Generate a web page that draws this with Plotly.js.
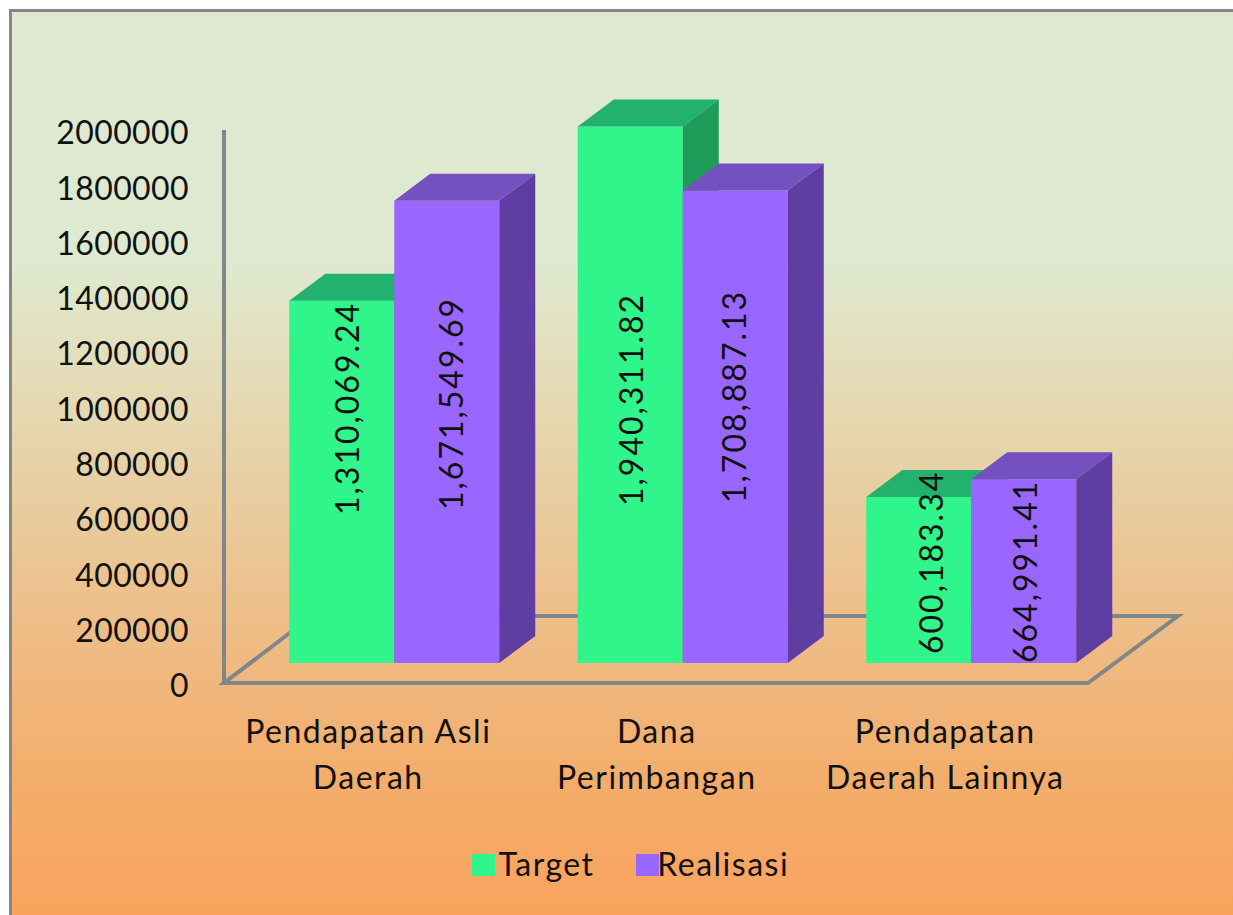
<!DOCTYPE html>
<html>
<head>
<meta charset="utf-8">
<script src="https://cdn.plot.ly/plotly-3.0.1.min.js"></script>
<style>
html,body{margin:0;padding:0;width:1233px;height:915px;overflow:hidden;background:#fff}
#bg{position:absolute;left:9px;top:9px;width:1240px;height:930px;box-sizing:border-box;border:3px solid #84887f;
background:linear-gradient(180deg,#dfe9d0 0px,#dfe9cf 250px,#e5d8b0 400px,#edc08c 590px,#f3ae6c 760px,#f9a35e 900px)}
#chart{position:absolute;left:0;top:0;width:1233px;height:915px}
#chart .annotation text{letter-spacing:1.5px}
#chart .annotation.data-label text{letter-spacing:2px}
#chart .xtick text{letter-spacing:1.5px}
#chart .ytick text{letter-spacing:0.4px}
</style>
</head>
<body>
<div id="bg"></div>
<div id="chart"></div>
<script>
const categories = ["Pendapatan Asli<br>Daerah", "Dana<br>Perimbangan", "Pendapatan<br>Daerah Lainnya"];
const target = [1310069.24, 1940311.82, 600183.34];
const realisasi = [1671549.69, 1708887.13, 664991.41];
const yTicks = [0,200000,400000,600000,800000,1000000,1200000,1400000,1600000,1800000,2000000];
const seriesNames = ["Target", "Realisasi"];
const labelFont = "Lato, Carlito, sans-serif";

// chart frame in pixels
const L=214,R=1188,T=95,B=693, X0=224, Y0=683, catW=288.5, unitsPerPx=2000000/553;
const xr=[-0.5-(X0-L)/catW, 2.5+(R-X0-3*catW)/catW];
const yr=[-(B-Y0)*unitsPerPx,(Y0-T)*unitsPerPx];
const dx=px=>px/catW, dy=px=>px*unitsPerPx;
const pxX=p=>-0.5+(p-X0)/catW;
const paperX=p=>(p-L)/(R-L), paperY=p=>(B-p)/(B-T);

const barW=dx(105), base=dy(20), depthX=dx(36), depthY=dy(27);
const offsets=[dx(-79),dx(26)];

function faces(vals,off){
  const topX=[],topY=[],sideX=[],sideY=[];
  vals.forEach((v,i)=>{
    const l=i+off, r=l+barW, t=base+v;
    topX.push(l,r,r+depthX,l+depthX,l,null);
    topY.push(t,t,t+depthY,t+depthY,t,null);
    sideX.push(r,r+depthX,r+depthX,r,r,null);
    sideY.push(base,base+depthY,t+depthY,t,base,null);
  });
  return {topX,topY,sideX,sideY};
}
const idx=[0,1,2];
function series(vals,off,name,front,top,side,xa,ya){
  const f=faces(vals,off);
  return [
    {type:'bar',x:idx,y:vals,base:[base,base,base],width:barW,offset:off,name:name,
     marker:{color:front,line:{width:0}},xaxis:xa,yaxis:ya,showlegend:false,hoverinfo:'name+y'},
    {type:'scatter',mode:'lines',x:f.topX,y:f.topY,fill:'toself',fillcolor:top,line:{width:0,color:top},
     xaxis:xa,yaxis:ya,showlegend:false,hoverinfo:'skip'},
    {type:'scatter',mode:'lines',x:f.sideX,y:f.sideY,fill:'toself',fillcolor:side,line:{width:0,color:side},
     xaxis:xa,yaxis:ya,showlegend:false,hoverinfo:'skip'}
  ];
}
const colors={tFront:'#2ff58a',tTop:'#22b26e',tSide:'#1f9c5a',rFront:'#9966ff',rTop:'#7450c0',rSide:'#5f3da3'};
const data=[
  ...series(target,offsets[0],seriesNames[0],colors.tFront,colors.tTop,colors.tSide,'x','y'),
  ...series(realisasi,offsets[1],seriesNames[1],colors.rFront,colors.rTop,colors.rSide,'x2','y2')
];

const fmt=v=>v.toLocaleString('en-US',{minimumFractionDigits:2,maximumFractionDigits:2});
const labelPx=[[346,409],[630,400],[930,563],[450,404],[733,397],[1024,572]];
const labelVals=[target[0],target[1],target[2],realisasi[0],realisasi[1],realisasi[2]];
const annotations=labelVals.map((v,i)=>({
  xref:'paper',yref:'paper',x:paperX(labelPx[i][0]),y:paperY(labelPx[i][1]),text:fmt(v),textangle:-90,
  showarrow:false,xanchor:'center',yanchor:'middle',font:{family:labelFont,size:32,color:'#111'}
}));
const legendPx=[[472,501,colors.tFront],[636,662,colors.rFront]];
seriesNames.forEach((n,i)=>annotations.push({
  xref:'paper',yref:'paper',x:paperX(legendPx[i][1]),y:paperY(863),text:n,showarrow:false,
  xanchor:'left',yanchor:'middle',font:{family:labelFont,size:32,color:'#111'}
}));

const gridGrey='#7f878a';
const fx=[pxX(224),pxX(1088),pxX(1178),pxX(312)], backY=dy(67);
const shapes=[
  {type:'path',layer:'below',xref:'x',yref:'y',
   path:`M${fx[0]},0 L${fx[1]},0 L${fx[2]},${backY} L${fx[3]},${backY} Z`,
   line:{color:gridGrey,width:4},fillcolor:'rgba(0,0,0,0)'},
  {type:'line',layer:'below',xref:'x',yref:'y',x0:fx[0],x1:fx[0],y0:0,y1:2000000,line:{color:gridGrey,width:4}},
  ...legendPx.map(p=>({type:'rect',xref:'paper',yref:'paper',x0:paperX(p[0]),x1:paperX(p[0]+23),
    y0:paperY(876),y1:paperY(854),fillcolor:p[2],line:{width:0}}))
];

const tickSpan=s=>s.split('<br>').map(t=>`<span style="font-size:32px">${t}</span>`).join('<br>');
const layout={
  width:1233,height:915,margin:{l:L,r:1233-R,t:T,b:915-B,pad:0},autosize:false,
  paper_bgcolor:'rgba(0,0,0,0)',plot_bgcolor:'rgba(0,0,0,0)',barmode:'overlay',showlegend:false,
  font:{family:labelFont,color:'#111'},
  xaxis:{type:'linear',range:xr,tickmode:'array',tickvals:idx,ticktext:categories.map(tickSpan),
    showgrid:false,zeroline:false,showline:false,ticks:'',ticklabelstandoff:14,tickangle:0,
    tickfont:{family:labelFont,size:35.4,color:'#111'},fixedrange:true},
  yaxis:{type:'linear',range:yr,tickmode:'array',tickvals:yTicks,ticktext:yTicks.map(String),
    showgrid:false,zeroline:false,showline:false,ticks:'',ticklabelstandoff:24,ticklabelshift:3,
    tickfont:{family:labelFont,size:32,color:'#111'},fixedrange:true},
  xaxis2:{type:'linear',overlaying:'x',range:xr,visible:false,fixedrange:true},
  yaxis2:{type:'linear',overlaying:'y',range:yr,visible:false,fixedrange:true},
  annotations,shapes
};
Plotly.newPlot('chart',data,layout,{displayModeBar:false,staticPlot:true}).then(gd=>{
  // the six value labels come first in the annotation layer
  gd.querySelectorAll('.annotation').forEach((el,i)=>{ if(i<labelVals.length) el.classList.add('data-label'); });
});
</script>
</body>
</html>
